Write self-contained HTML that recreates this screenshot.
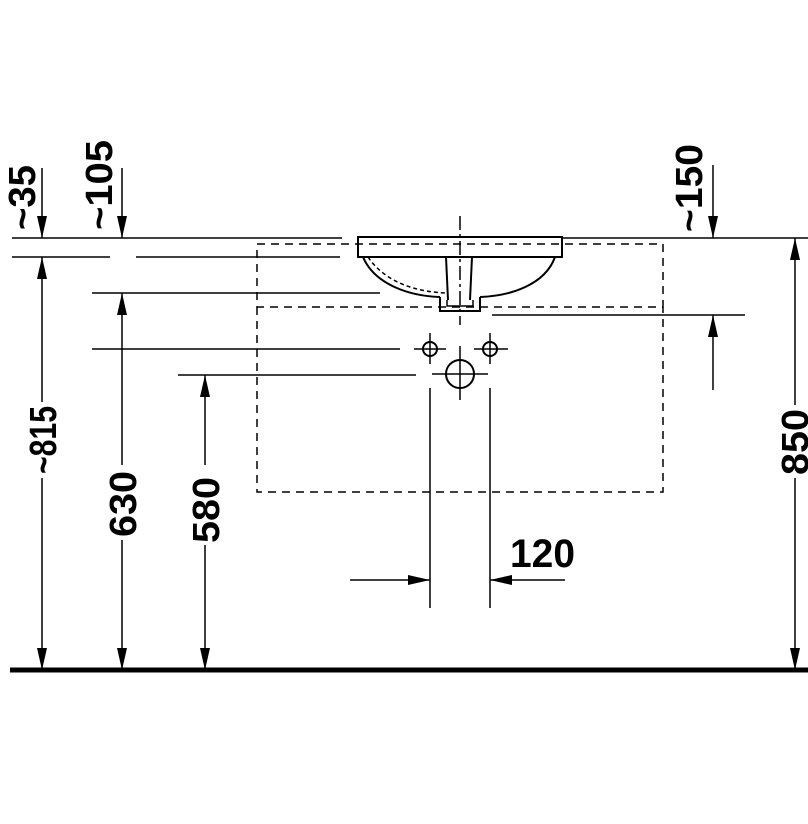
<!DOCTYPE html>
<html><head><style>body{margin:0;background:#fff}svg{display:block}text{font-family:"Liberation Sans",sans-serif;font-weight:bold;fill:#000}</style></head>
<body>
<svg width="808" height="824" viewBox="0 0 808 824" xmlns="http://www.w3.org/2000/svg">
<defs>
<marker id="a" viewBox="0 0 22 10" refX="22" refY="5" markerWidth="22" markerHeight="10" markerUnits="userSpaceOnUse" orient="auto" preserveAspectRatio="none"><path d="M0,0 L22,5 L0,10z" fill="#000"/></marker>
</defs>
<g stroke="#000" stroke-width="1.5" fill="none">
<line x1="12" y1="238" x2="342" y2="238"/>
<line x1="562" y1="238" x2="808" y2="238"/>
<line x1="12" y1="257" x2="110" y2="257"/>
<line x1="136" y1="257" x2="340" y2="257"/>
<line x1="92" y1="293" x2="380" y2="293"/>
<line x1="92" y1="349" x2="400" y2="349"/>
<line x1="178" y1="375" x2="416" y2="375"/>
<line x1="492" y1="315" x2="745" y2="315"/>
<g stroke-dasharray="8,6">
<path d="M257,244 H663 V307 H257 Z"/>
<path d="M257,307 V492 H663 V307"/>
<line x1="460" y1="216" x2="460" y2="325" stroke-dasharray="14,4,3,4"/>
</g>
<rect x="358" y="237" width="204" height="20" stroke-width="2"/>
<path d="M363,257 C375,285 410,296 440,297 M555,257 C545,285 510,296 480,297" stroke-width="2"/>
<path d="M368,257 C385,282 415,292 447,293" stroke-dasharray="4,3"/>
<path d="M446,257 L448,300 M472,257 L470,300" stroke-width="2"/>
<path d="M440,297 V311 H480 V297" stroke-width="2"/>
<path d="M447,300 V306 H473 V300" stroke-width="1.5"/>
<circle cx="430" cy="349" r="7" stroke-width="2"/>
<circle cx="490" cy="349" r="7" stroke-width="2"/>
<circle cx="460" cy="374" r="14" stroke-width="2"/>
<line x1="414" y1="349" x2="446" y2="349"/><line x1="430" y1="333" x2="430" y2="364"/>
<line x1="474" y1="349" x2="508" y2="349"/><line x1="490" y1="333" x2="490" y2="364"/>
<line x1="432" y1="374" x2="488" y2="374"/><line x1="460" y1="346" x2="460" y2="400"/>
<line x1="430" y1="388" x2="430" y2="608"/>
<line x1="490" y1="388" x2="490" y2="608"/>
<line x1="350" y1="580" x2="430" y2="580" marker-end="url(#a)"/>
<line x1="565" y1="580" x2="490" y2="580" marker-end="url(#a)"/>
<line x1="42" y1="168" x2="42" y2="238" marker-end="url(#a)"/>
<line x1="122" y1="168" x2="122" y2="238" marker-end="url(#a)"/>
<line x1="713" y1="165" x2="713" y2="238" marker-end="url(#a)"/>
<line x1="713" y1="390" x2="713" y2="315" marker-end="url(#a)"/>
<line x1="42" y1="402" x2="42" y2="257" marker-end="url(#a)"/>
<line x1="42" y1="478" x2="42" y2="670" marker-end="url(#a)"/>
<line x1="122" y1="465" x2="122" y2="293" marker-end="url(#a)"/>
<line x1="122" y1="540" x2="122" y2="670" marker-end="url(#a)"/>
<line x1="205" y1="465" x2="205" y2="375" marker-end="url(#a)"/>
<line x1="205" y1="545" x2="205" y2="670" marker-end="url(#a)"/>
<line x1="795" y1="405" x2="795" y2="238" marker-end="url(#a)"/>
<line x1="795" y1="478" x2="795" y2="670" marker-end="url(#a)"/>
</g>
<line x1="10" y1="670" x2="808" y2="670" stroke="#000" stroke-width="5"/>
<text x="575" y="567" font-size="40" textLength="65" lengthAdjust="spacingAndGlyphs" text-anchor="end">120</text>
<g font-size="38">
<text transform="translate(56,474) rotate(-90)" textLength="68" lengthAdjust="spacingAndGlyphs">~815</text>
<text transform="translate(136,537) rotate(-90)" textLength="66" lengthAdjust="spacingAndGlyphs">630</text>
<text transform="translate(219,543) rotate(-90)" textLength="66" lengthAdjust="spacingAndGlyphs">580</text>
<text transform="translate(808,475) rotate(-90)" textLength="66" lengthAdjust="spacingAndGlyphs">850</text>
<text transform="translate(35,230) rotate(-90)" textLength="65" lengthAdjust="spacingAndGlyphs">~35</text>
<text transform="translate(112,230) rotate(-90)" textLength="90" lengthAdjust="spacingAndGlyphs">~105</text>
<text transform="translate(702,232) rotate(-90)" textLength="88" lengthAdjust="spacingAndGlyphs">~150</text>
</g>
</svg>
</body></html>
